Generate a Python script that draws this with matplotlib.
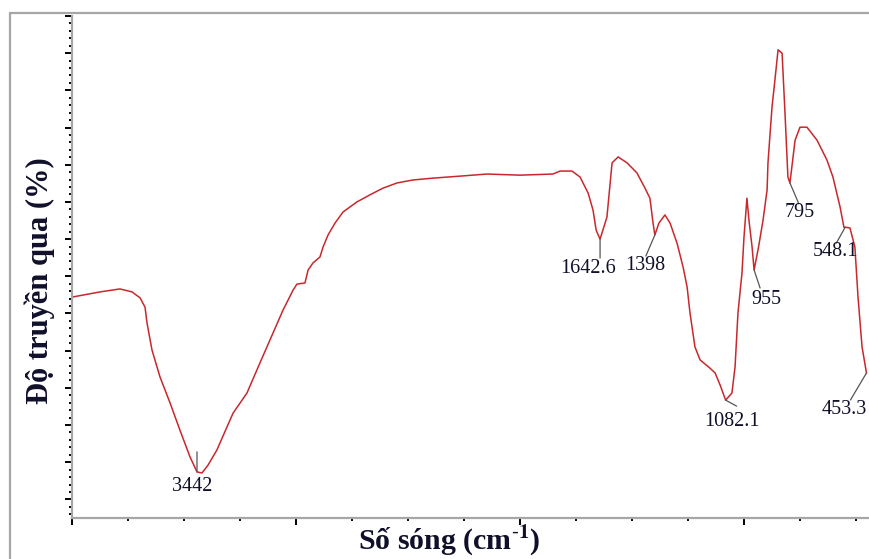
import matplotlib
matplotlib.use('Agg')
import matplotlib.pyplot as plt
from matplotlib.patches import Rectangle
from matplotlib.ticker import MultipleLocator
import numpy as np

# FTIR spectrum
wavenumber = [4000, 3875, 3786, 3732, 3696, 3674, 3665, 3643, 3607, 3562, 3518, 3473,
              3442, 3420, 3393, 3353, 3308, 3281, 3219, 3161, 3103, 3058, 3013, 2996,
              2960, 2946, 2924, 2893, 2879, 2857, 2826, 2790, 2728, 2670, 2612, 2549,
              2478, 2388, 2254, 2147, 2000, 1853, 1821, 1768, 1732, 1696, 1674, 1660,
              1642.6, 1612, 1589, 1562, 1522, 1478, 1442, 1420, 1406, 1398, 1380, 1353,
              1330, 1299, 1272, 1254, 1241, 1219, 1196, 1152, 1129, 1107, 1082.1, 1054,
              1040, 1027, 1009, 1000, 987, 978, 964, 955, 935, 915, 897, 893, 875, 862,
              848, 830, 817, 804, 795, 772, 750, 719, 674, 630, 603, 571, 554, 548.1,
              527, 505, 491, 473, 453.3]
transmit = [64.4, 65.8, 66.6, 65.8, 64.2, 61.7, 57.4, 50.2, 42.9, 35.9, 28.6, 21.4,
            17.4, 17.1, 19.2, 23.3, 29.5, 33.2, 38.6, 46.7, 54.7, 60.9, 66.3, 67.9,
            68.2, 71.7, 73.6, 75.2, 77.9, 81.1, 84.3, 87.3, 90.0, 91.9, 93.7, 95.1,
            95.9, 96.4, 97.0, 97.5, 97.2, 97.5, 98.3, 98.3, 96.7, 92.4, 87.8, 82.4,
            80.0, 85.9, 100.5, 102.1, 100.5, 97.8, 93.7, 91.0, 84.3, 81.1, 84.3, 86.5,
            84.3, 78.9, 72.5, 67.1, 60.1, 51.0, 47.5, 45.3, 44.0, 40.8, 36.7, 38.6,
            45.6, 60.1, 70.9, 80.6, 91.0, 85.1, 77.9, 71.7, 77.9, 85.1, 93.2, 100.5, 115.5, 122.8,
            130.9, 130.0, 113.9, 96.7, 95.1, 106.6, 110.1, 110.1, 106.6, 101.3, 96.7, 88.6, 83.2, 83.2,
            83.0, 77.9, 64.4, 51.0, 44.0]

peak_labels = ['3442', '1642.6', '1398', '1082.1', '955', '795', '548.1', '453.3']
peak_pos = [3442, 1642.6, 1398, 1082.1, 955, 795, 548.1, 453.3]
# leader end and text centre offsets (pixels)
leader_off = [(0, 20), (0, -19), (-9, -21), (11, -6), (6, -18), (9, -21), (-9, -16), (-16, -27)]
text_off = [(-5, -15), (-12, -29), (-10, -30), (6, -21), (12, -30), (10, -30), (-10, -24), (-22, -37)]

W, H = 869, 559
fig = plt.figure(figsize=(W / 100, H / 100), dpi=100)
fig.patch.set_facecolor('white')

# outer grey frame, cut by the image edge on right and bottom
fig.add_artist(Rectangle((10 / W, -0.5), 2.0, 0.5 + (1 - 13 / H), transform=fig.transFigure,
                         fill=False, edgecolor='#a6a6a6', lw=1.6))

ax = fig.add_axes([72 / W, 1 - 518 / H, (W - 72) / W, (518 - 16) / H])
ax.plot(wavenumber, transmit, color='#c8282c', lw=1.1)
ax.set_xlim(4000, 442)
ax.set_ylim(5, 140)

ax.xaxis.set_major_locator(MultipleLocator(1000))
ax.xaxis.set_minor_locator(MultipleLocator(250))
ax.yaxis.set_major_locator(MultipleLocator(10))
ax.yaxis.set_minor_locator(MultipleLocator(2))
ax.tick_params(which='both', labelleft=False, labelbottom=False, direction='out', color='black')
ax.tick_params(which='major', length=5, width=1.4)
ax.tick_params(which='minor', length=2.5, width=1.4)
for s in ['top', 'right']:
    ax.spines[s].set_visible(False)
for s in ['left', 'bottom']:
    ax.spines[s].set_color('#a6a6a6')
    ax.spines[s].set_linewidth(1.6)

for lab, wn, lo, to in zip(peak_labels, peak_pos, leader_off, text_off):
    t = np.interp(wn, wavenumber[::-1], transmit[::-1])
    ax.annotate('', xy=(wn, t), xytext=lo, textcoords='offset pixels',
                arrowprops=dict(arrowstyle='-', color='#555555', lw=0.9, shrinkA=0, shrinkB=0))
    ax.annotate(lab, xy=(wn, t), xytext=to, textcoords='offset pixels', ha='center', va='center',
                fontsize=14.5, family='Liberation Serif', color='#10102a', annotation_clip=False)

plt.rcParams['mathtext.fontset'] = 'stix'
fig.text(449 / W, 1 - 541 / H, r'Số sóng (cm$^{\text{-}\mathbf{1}}$)', ha='center', va='center',
         fontsize=21.5, fontweight='bold', family='Liberation Serif', color='#10102a')
fig.text(40 / W, 1 - 281 / H, 'Độ truyền qua (%)', ha='center', va='center', rotation=90,
         fontsize=22, fontweight='bold', family='Liberation Serif', color='#10102a')

fig.savefig('out.png', dpi=100)
